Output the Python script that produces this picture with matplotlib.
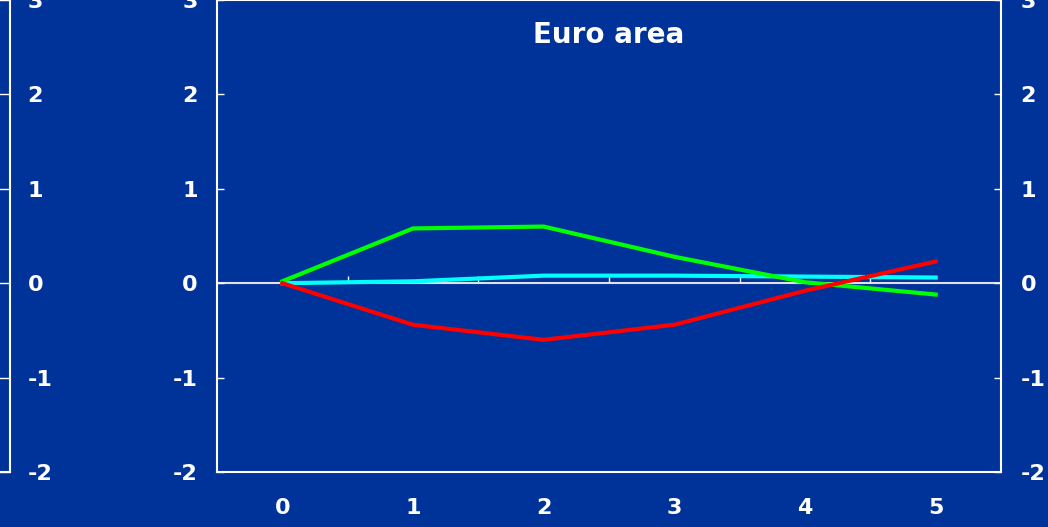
import numpy as np
import matplotlib
matplotlib.use("Agg")
import matplotlib.pyplot as plt

# horizon (quarters/years) and responses
horizon = [0, 1, 2, 3, 4, 5]
red_line = [0.0, -0.44, -0.60, -0.44, -0.08, 0.23]
green_line = [0.02, 0.58, 0.60, 0.28, 0.01, -0.12]
cyan_line = [0.0, 0.02, 0.08, 0.08, 0.07, 0.06]
yticks = [-2, -1, 0, 1, 2, 3]

plt.rcParams["axes.unicode_minus"] = False

bg = "#003399"
W, H = 1048, 527
fig = plt.figure(figsize=(W / 100, H / 100), dpi=100)
fig.patch.set_facecolor(bg)

bottom = 55 / H
height = 1.0 - bottom

# sliver of the previous panel on the left (only its right axis is visible)
ax0 = fig.add_axes([-0.5, bottom, 0.5 + 9.5 / W, height])
ax0.set_facecolor(bg)
ax0.set_ylim(-2, 3)
ax0.set_xlim(0, 1)
ax0.spines["left"].set_visible(False)
for s in ["right", "bottom", "top"]:
    ax0.spines[s].set_color("white")
    ax0.spines[s].set_linewidth(1.5)
ax0.set_xticks([])
ax0.yaxis.tick_right()
ax0.set_yticks(yticks)
ax0.tick_params(axis="y", direction="in", length=8, width=1, color="white",
                labelcolor="white", labelsize=16, pad=13)
for lab in ax0.get_yticklabels():
    lab.set_fontweight("bold")

# main panel
ax = fig.add_axes([217 / W, bottom, (1001 - 217) / W, height])
ax.set_facecolor(bg)
ax.set_xlim(-0.5, 5.5)
ax.set_ylim(-2, 3)
for s in ax.spines.values():
    s.set_color("white")
    s.set_linewidth(1.5)

ax.axhline(0, color="#e0e0e0", lw=1.5, zorder=1)
ax.plot(horizon, cyan_line, color="#00ffff", lw=3, zorder=3)
ax.plot(horizon, green_line, color="#00ff00", lw=3, zorder=4)
ax.plot(horizon, red_line, color="#ff0000", lw=3, zorder=5)

ax.set_xticks(horizon)
ax.tick_params(axis="x", length=0, labelcolor="white", labelsize=16, pad=19)
ax.set_yticks(yticks)
ax.tick_params(axis="y", which="both", direction="in", length=5, width=1,
               color="white", labelcolor="white", labelsize=16, pad=14,
               left=True, right=True, labelleft=True, labelright=True)
for lab in ax.get_xticklabels():
    lab.set_fontweight("bold")
for t in ax.yaxis.get_major_ticks():
    t.label1.set_fontweight("bold")
    t.label2.set_fontweight("bold")

# small tick marks along the zero line between the periods
zero_axis = ax.secondary_xaxis(0.4)
zero_axis.spines["bottom"].set_visible(False)
zero_axis.set_xticks([0.5, 1.5, 2.5, 3.5, 4.5])
zero_axis.tick_params(direction="in", length=5, width=1, color="white", labelbottom=False)

ax.text(0.5, 0.926, "Euro area", transform=ax.transAxes, ha="center", va="center",
        color="white", fontsize=20, fontweight="bold")

fig.savefig("out.png", dpi=100, facecolor=bg)
